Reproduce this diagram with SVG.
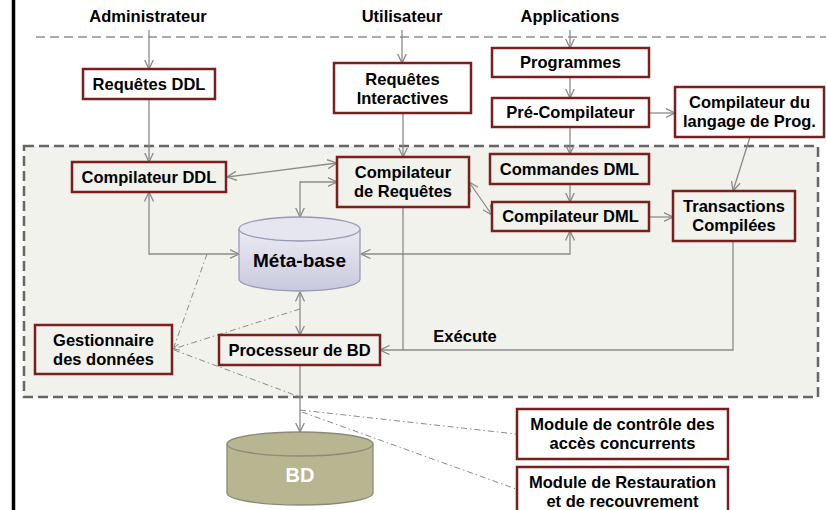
<svg xmlns="http://www.w3.org/2000/svg" width="826" height="510" viewBox="0 0 826 510">
<style>
.t{font-family:"Liberation Sans",Arial,sans-serif;font-weight:bold;font-size:16.5px;fill:#000;text-anchor:middle}
.box{fill:#fff;stroke:#7a1e1e;stroke-width:2.5}
.ibox{fill:#f2f2ed;stroke:#7a1e1e;stroke-width:2.5}
.c{fill:none;stroke:#8a8a8a;stroke-width:1.3}
.dd{fill:none;stroke:#8a8a8a;stroke-width:1;stroke-dasharray:6,3,1.5,3}
</style>
<defs>
<marker id="a" viewBox="0 0 10 10" refX="9.5" refY="5" markerWidth="10" markerHeight="10" markerUnits="userSpaceOnUse" orient="auto-start-reverse">
<path d="M0,0.5 L9.5,5 L0,9.5" fill="none" stroke="#8a8a8a" stroke-width="1.3"/>
</marker>
<marker id="s" viewBox="0 0 10 10" refX="9.5" refY="5" markerWidth="7" markerHeight="7" markerUnits="userSpaceOnUse" orient="auto-start-reverse">
<path d="M0,0.5 L9.5,5 L0,9.5" fill="none" stroke="#8a8a8a" stroke-width="1.3"/>
</marker>
<linearGradient id="mg" x1="0" y1="0" x2="0" y2="1">
<stop offset="0" stop-color="#ebebf4"/>
<stop offset="1" stop-color="#c9c9de"/>
</linearGradient>
</defs>
<rect width="826" height="510" fill="#fff"/>
<line x1="13.5" y1="0" x2="13.5" y2="510" stroke="#000" stroke-width="3.5"/>
<line x1="36" y1="37" x2="826" y2="37" stroke="#aaa" stroke-width="2" stroke-dasharray="9,5"/>
<rect x="24" y="146" width="794" height="251" fill="#f2f2ed" stroke="#666" stroke-width="2.5" stroke-dasharray="10,5"/>

<g id="labels">
<text class="t" x="148" y="22">Administrateur</text>
<text class="t" x="402" y="22">Utilisateur</text>
<text class="t" x="570" y="22">Applications</text>
<text class="t" x="465" y="342">Exécute</text>
</g>

<g id="connectors">
<line class="c" x1="149" y1="30" x2="149" y2="69" marker-end="url(#a)"/>
<line class="c" x1="402" y1="30" x2="402" y2="63" marker-end="url(#a)"/>
<line class="c" x1="570" y1="30" x2="570" y2="48" marker-end="url(#a)"/>
<line class="c" x1="570" y1="77" x2="570" y2="98" marker-end="url(#a)"/>
<line class="c" x1="649" y1="113" x2="675" y2="113" marker-end="url(#a)"/>
<line class="c" x1="149" y1="99" x2="149" y2="162" marker-end="url(#a)"/>
<line class="c" x1="403" y1="113" x2="403" y2="157" marker-end="url(#a)"/>
<line class="c" x1="570" y1="127" x2="570" y2="154" marker-end="url(#a)"/>
<line class="c" x1="570" y1="184" x2="570" y2="202" marker-end="url(#a)"/>
<line class="c" x1="649" y1="217" x2="673" y2="217" marker-end="url(#a)"/>
<line class="c" x1="750" y1="137" x2="733" y2="191" marker-end="url(#a)"/>
<line class="c" x1="227" y1="177" x2="337" y2="163" marker-start="url(#a)" marker-end="url(#a)"/>
<line class="c" x1="469" y1="182" x2="492" y2="215" marker-start="url(#a)" marker-end="url(#a)"/>
<polyline class="c" points="300,217 300,182 337,182" marker-start="url(#a)" marker-end="url(#a)"/>
<polyline class="c" points="149,192 149,254 239,254" marker-start="url(#a)" marker-end="url(#a)"/>
<polyline class="c" points="361,254 570,254 570,231" marker-start="url(#a)" marker-end="url(#a)"/>
<polyline class="c" points="403,207 403,350 380,350" marker-end="url(#a)"/>
<polyline class="c" points="733,241 733,350 403,350"/>
<line class="c" x1="300" y1="292" x2="300" y2="335" marker-start="url(#a)" marker-end="url(#a)"/>
<line class="c" x1="300" y1="365" x2="300" y2="432" marker-end="url(#a)"/>
<line class="dd" x1="207" y1="254" x2="174" y2="347"/>
<line class="dd" x1="300" y1="309" x2="173" y2="349" marker-end="url(#s)"/>
<line class="dd" x1="174" y1="350" x2="300" y2="397"/>
<line class="dd" x1="300" y1="410" x2="516" y2="434"/>
<line class="dd" x1="302" y1="412" x2="516" y2="489"/>
</g>

<g id="req-ddl"><rect class="box" x="83" y="69" width="132" height="30"/><text class="t" x="149" y="90">Requêtes DDL</text></g>
<g id="req-int"><rect class="box" x="334" y="63" width="137" height="50"/><text class="t" x="402.5" y="85">Requêtes</text><text class="t" x="402.5" y="104">Interactives</text></g>
<g id="programmes"><rect class="box" x="492" y="48" width="157" height="29"/><text class="t" x="570.5" y="68">Programmes</text></g>
<g id="precomp"><rect class="box" x="492" y="98" width="157" height="29"/><text class="t" x="570.5" y="118">Pré-Compilateur</text></g>
<g id="comp-lang"><rect class="box" x="675" y="87" width="149" height="50"/><text class="t" x="749.5" y="108">Compilateur du</text><text class="t" x="749.5" y="127">langage de Prog.</text></g>
<g id="comp-ddl"><rect class="ibox" x="72" y="162" width="154" height="30"/><text class="t" x="149" y="183">Compilateur DDL</text></g>
<g id="comp-req"><rect class="ibox" x="337" y="157" width="132" height="50"/><text class="t" x="403" y="178">Compilateur</text><text class="t" x="403" y="197">de Requêtes</text></g>
<g id="cmd-dml"><rect class="ibox" x="490" y="154" width="159" height="30"/><text class="t" x="569.5" y="175">Commandes DML</text></g>
<g id="comp-dml"><rect class="ibox" x="492" y="202" width="157" height="29"/><text class="t" x="570.5" y="222">Compilateur DML</text></g>
<g id="trans"><rect class="ibox" x="673" y="191" width="122" height="50"/><text class="t" x="734" y="212">Transactions</text><text class="t" x="734" y="231">Compilées</text></g>
<g id="metabase">
<path d="M239,229 L239,279 A60.5,12 0 0 0 360,279 L360,229" fill="url(#mg)" stroke="#9999b5" stroke-width="1.3"/>
<ellipse cx="299.5" cy="229" rx="60.5" ry="12" fill="#e6e6f0" stroke="#9999b5" stroke-width="1.3"/>
<text class="t" x="299.5" y="267" style="font-size:19px">Méta-base</text>
</g>
<g id="gestion"><rect class="ibox" x="35" y="325" width="137" height="49"/><text class="t" x="103.5" y="346">Gestionnaire</text><text class="t" x="103.5" y="365">des données</text></g>
<g id="proc-bd"><rect class="ibox" x="219" y="335" width="161" height="30"/><text class="t" x="299.5" y="356">Processeur de BD</text></g>
<g id="bd">
<path d="M227,444 L227,493 A73,12 0 0 0 373,493 L373,444" fill="#b7b690" stroke="#8a8a78" stroke-width="1.3"/>
<ellipse cx="300" cy="444" rx="73" ry="12" fill="#b7b690" stroke="#8a8a78" stroke-width="1.3"/>
<text class="t" x="300" y="482" style="font-size:20px;fill:#fff">BD</text>
</g>
<g id="mod-cc"><rect class="box" x="517" y="409" width="211" height="50"/><text class="t" x="622.5" y="430">Module de contrôle des</text><text class="t" x="622.5" y="449">accès concurrents</text></g>
<g id="mod-rest"><rect class="box" x="517" y="467" width="211" height="50"/><text class="t" x="622.5" y="488">Module de Restauration</text><text class="t" x="622.5" y="507">et de recouvrement</text></g>
</svg>
